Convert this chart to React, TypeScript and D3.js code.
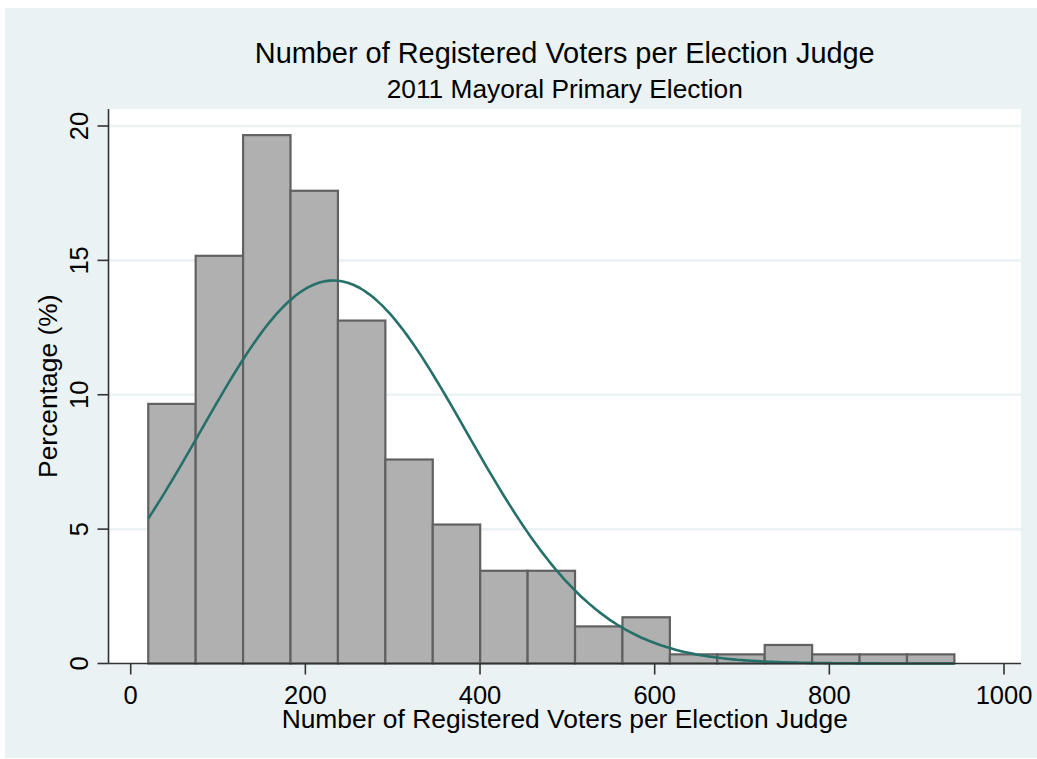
import React from "react";
import * as d3 from "d3";

// Histogram of registered voters per election judge (percent of precincts per bin)
const binEdges = [20.1, 74.4, 128.7, 183.0, 237.3, 291.6, 345.9, 400.2, 454.5, 508.8, 563.1, 617.4, 671.7, 726.0, 780.3, 834.6, 888.9, 943.2];
const binPercent = [9.66, 15.17, 19.66, 17.59, 12.76, 7.59, 5.17, 3.45, 3.45, 1.38, 1.72, 0.34, 0.34, 0.69, 0.34, 0.34, 0.34];

// Fitted normal density (sample mean and standard deviation)
const normalMean = 232;
const normalSd = 152;

const xTicks = [0, 200, 400, 600, 800, 1000];
const yTicks = [0, 5, 10, 15, 20];
const yGrid = [5, 10, 15, 20];

const titleText = "Number of Registered Voters per Election Judge";
const subtitleText = "2011 Mayoral Primary Election";
const xTitleText = "Number of Registered Voters per Election Judge";
const yTitleText = "Percentage (%)";

const W = 1037;
const H = 759;
const plot = { left: 108.5, right: 1021, top: 109, bottom: 663.5 };
const FONT = "'Liberation Sans', Arial, Helvetica, sans-serif";
const BG = "#EAF2F3";

export default function App() {
  const x = d3.scaleLinear().domain([0, 1000]).range([130.7, 1004]);
  const y = d3.scaleLinear().domain([0, 20]).range([663.5, 126]);

  const binWidth = binEdges[1] - binEdges[0];
  const lo = binEdges[0];
  const hi = binEdges[binEdges.length - 1];
  const samples = d3.range(0, 201).map((i) => lo + ((hi - lo) * i) / 200);
  const density = (v: number) =>
    (100 * binWidth * Math.exp(-0.5 * ((v - normalMean) / normalSd) ** 2)) /
    (normalSd * Math.sqrt(2 * Math.PI));
  const curve = d3
    .line<number>()
    .x((v) => x(v))
    .y((v) => y(density(v)))
    .curve(d3.curveMonotoneX)(samples);

  const cx = (plot.left + plot.right) / 2;

  return (
    <svg
      width={W}
      height={H}
      style={{ position: "absolute", left: 0, top: 0, display: "block" }}
      fontFamily={FONT}
    >
      <rect x={0} y={0} width={W} height={H} fill="#ffffff" />
      <rect x={5} y={8} width={W - 5} height={750} fill={BG} />
      <rect
        x={plot.left}
        y={plot.top}
        width={plot.right - plot.left}
        height={plot.bottom - plot.top}
        fill="#ffffff"
      />

      {/* horizontal grid */}
      {yGrid.map((t) => (
        <line
          key={"g" + t}
          x1={plot.left}
          x2={plot.right}
          y1={y(t)}
          y2={y(t)}
          stroke={BG}
          strokeWidth={2.5}
        />
      ))}

      {/* bars */}
      {binPercent.map((p, i) => (
        <rect
          key={"b" + i}
          x={x(binEdges[i])}
          y={y(p)}
          width={x(binEdges[i + 1]) - x(binEdges[i])}
          height={y(0) - y(p)}
          fill="#B0B0B0"
          stroke="#616161"
          strokeWidth={2.2}
        />
      ))}

      {/* normal curve */}
      <path d={curve ?? ""} fill="none" stroke="#26706A" strokeWidth={2.6} />

      {/* axes */}
      <line x1={plot.left} x2={plot.left} y1={plot.top} y2={plot.bottom} stroke="#333" strokeWidth={1.6} />
      <line x1={plot.left} x2={plot.right} y1={plot.bottom} y2={plot.bottom} stroke="#333" strokeWidth={1.6} />

      {yTicks.map((t) => (
        <g key={"yt" + t}>
          <line x1={plot.left - 11} x2={plot.left} y1={y(t)} y2={y(t)} stroke="#333" strokeWidth={1.6} />
          <text
            transform={`translate(88,${y(t)}) rotate(-90)`}
            textAnchor="middle"
            fontSize={25.5}
            fill="#000"
          >
            {t}
          </text>
        </g>
      ))}

      {xTicks.map((t) => (
        <g key={"xt" + t}>
          <line x1={x(t)} x2={x(t)} y1={plot.bottom} y2={plot.bottom + 11} stroke="#333" strokeWidth={1.6} />
          <text x={x(t)} y={704} textAnchor="middle" fontSize={25.5} fill="#000">
            {t}
          </text>
        </g>
      ))}

      {/* titles */}
      <text x={cx} y={63.3} textAnchor="middle" fontSize={28.9} fill="#000">
        {titleText}
      </text>
      <text x={cx} y={98.3} textAnchor="middle" fontSize={26.3} fill="#000">
        {subtitleText}
      </text>
      <text x={cx} y={728.3} textAnchor="middle" fontSize={26.4} fill="#000">
        {xTitleText}
      </text>
      <text
        transform={`translate(56.7,${(plot.top + plot.bottom) / 2}) rotate(-90)`}
        textAnchor="middle"
        fontSize={26.4}
        fill="#000"
      >
        {yTitleText}
      </text>
    </svg>
  );
}
